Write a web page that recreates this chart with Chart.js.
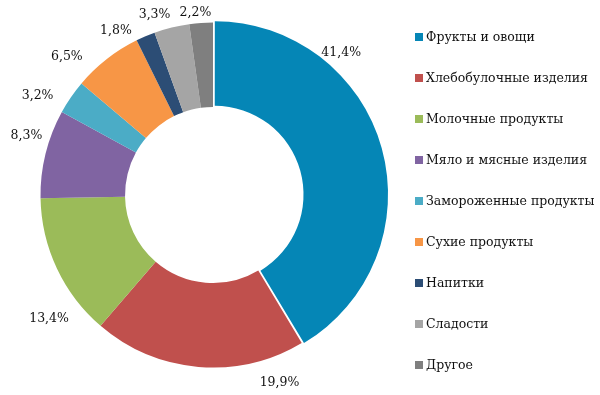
<!DOCTYPE html>
<html>
<head>
<meta charset="utf-8">
<script src="https://cdn.jsdelivr.net/npm/chart.js@4"></script>
<style>
  html, body { margin: 0; padding: 0; background: #fff; }
  #wrap { width: 600px; height: 395px; }
</style>
</head>
<body>
<div id="wrap"><canvas id="chart"></canvas></div>
<script>
// Chart data
const categories = [
    'Фрукты и овощи',
    'Хлебобулочные изделия',
    'Молочные продукты',
    'Мяло и мясные изделия',
    'Замороженные продукты',
    'Сухие продукты',
    'Напитки',
    'Сладости',
    'Другое'
];
const shares = [41.4, 19.9, 13.4, 8.3, 3.2, 6.5, 1.8, 3.3, 2.2];
const shareLabels = ['41,4%', '19,9%', '13,4%', '8,3%', '3,2%', '6,5%', '1,8%', '3,3%', '2,2%'];

const colors = ['#0586B6', '#C0504D', '#9BBB59', '#8064A2', '#4BACC6', '#F79646', '#2C4D75', '#A5A5A5', '#7F7F7F'];

// where each value label sits: angle (deg, clockwise from top) and gap outside the ring
const labelAngle = [42, 160.5, 233, 287.5, 299.5, 313.5, 329.5, 342, 354.5];
const labelGap = [1, 14, 13, 6, 12, 13, 5, 5.5, 2.5];

const labelFont = '12.5px "DejaVu Serif"';
const legendFont = '12.5px "DejaVu Serif"';

// Value labels outside the ring
const valueLabels = {
    id: 'valueLabels',
    afterDatasetsDraw(chart) {
        const ctx = chart.ctx;
        const arcs = chart.getDatasetMeta(0).data;
        const R = arcs[1].outerRadius;
        ctx.save();
        ctx.font = labelFont;
        ctx.fillStyle = '#111';
        ctx.textAlign = 'center';
        ctx.textBaseline = 'middle';
        arcs.forEach((arc, i) => {
            const a = labelAngle[i] * Math.PI / 180;
            const s = Math.sin(a), c = -Math.cos(a);
            const w = ctx.measureText(shareLabels[i]).width;
            const d = R + labelGap[i] + Math.abs(s) * w / 2 + Math.abs(c) * 6.5;
            ctx.fillText(shareLabels[i], arc.x + s * d, arc.y + c * d);
        });
        ctx.restore();
    }
};

// Legend on the right, one item per category
const sideLegend = {
    id: 'sideLegend',
    afterDraw(chart) {
        const ctx = chart.ctx;
        ctx.save();
        ctx.font = legendFont;
        ctx.textBaseline = 'middle';
        categories.forEach((name, i) => {
            const y = 37 + i * 41;
            ctx.fillStyle = colors[i];
            ctx.fillRect(415, y - 4, 8, 8);
            ctx.fillStyle = '#111';
            ctx.fillText(name, 426, y + 1);
        });
        ctx.restore();
    }
};

const ctx = document.getElementById('chart').getContext('2d');
const chart = new Chart(ctx, {
    type: 'doughnut',
    data: {
        labels: categories,
        datasets: [{
            data: shares,
            backgroundColor: colors,
            borderWidth: 0,
            // the arc is shifted by half of this value
            offset: [7, 0, 0, 0, 0, 0, 0, 0, 0]
        }]
    },
    options: {
        responsive: true,
        maintainAspectRatio: false,
        animation: false,
        cutout: '51%',
        layout: {
            padding: { left: 37, right: 211, top: 19, bottom: 24 }
        },
        plugins: {
            legend: { display: false },
            tooltip: { enabled: false }
        }
    },
    plugins: [valueLabels, sideLegend]
});
</script>
</body>
</html>
